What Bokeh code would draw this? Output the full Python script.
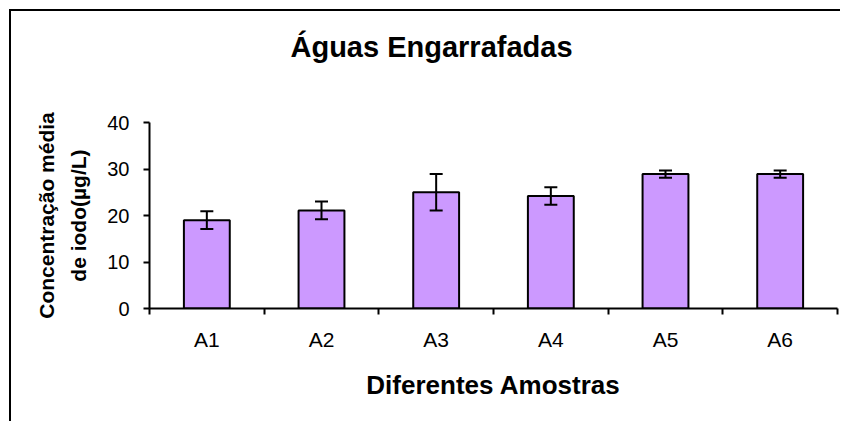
from bokeh.plotting import figure
from bokeh.models import ColumnDataSource, FixedTicker, Whisker, TeeHead, Range1d, Title
from bokeh.embed import file_html
from bokeh.resources import INLINE

categories = ["A1", "A2", "A3", "A4", "A5", "A6"]
means = [19.0, 21.1, 25.0, 24.2, 28.9, 28.9]
errors = [1.9, 1.9, 3.9, 1.9, 0.8, 0.8]
y_ticks = [0, 10, 20, 30, 40]

xs = [i + 0.5 for i in range(len(categories))]
src = ColumnDataSource(dict(
    x=xs, top=means,
    upper=[m + e for m, e in zip(means, errors)],
    lower=[m - e for m, e in zip(means, errors)],
))

FONT = "Liberation Sans"

p = figure(width=831, height=412, output_backend="svg", toolbar_location=None,
           x_range=Range1d(0, len(categories)), y_range=Range1d(0, 40),
           min_border_left=138, min_border_right=5, min_border_top=111,
           min_border_bottom=115)
p.styles = {"margin-left": "9px", "margin-top": "9px",
            "border-left": "2px solid black", "border-top": "2px solid black"}
p.outline_line_color = None
p.grid.visible = False
p.background_fill_color = "white"
p.border_fill_color = "white"

p.vbar(x="x", top="top", width=0.4, source=src, fill_color="#CC99FF",
       line_color="black", line_width=2)
w = Whisker(base="x", upper="upper", lower="lower", source=src,
            line_color="black", line_width=2, level="overlay",
            upper_head=TeeHead(size=13, line_color="black", line_width=2),
            lower_head=TeeHead(size=13, line_color="black", line_width=2))
p.add_layout(w)

# spacer between plot area and title
p.add_layout(Title(text=" ", text_font_size="1px", standoff=57), "above")

# title
p.title.text = "Águas Engarrafadas"
p.title.text_font = FONT
p.title.text_font_size = "29px"
p.title.text_font_style = "bold"
p.title.text_color = "black"
p.title.align = "left"
p.title.offset = 141
p.title.standoff = 0

# x axis
xa = p.xaxis[0]
xa.ticker = FixedTicker(ticks=xs, minor_ticks=list(range(len(categories) + 1)))
xa.major_label_overrides = {x: c for x, c in zip(xs, categories)}
xa.major_tick_out = 0
xa.major_tick_in = 0
xa.minor_tick_out = 6
xa.minor_tick_in = 0
xa.minor_tick_line_color = "black"
xa.minor_tick_line_width = 2
xa.axis_line_color = "black"
xa.axis_line_width = 2
xa.major_label_text_font = FONT
xa.major_label_text_font_size = "21px"
xa.major_label_text_color = "black"
xa.major_label_standoff = 13
xa.axis_label = "Diferentes Amostras"
xa.axis_label_text_font = FONT
xa.axis_label_text_font_size = "26px"
xa.axis_label_text_font_style = "bold"
xa.axis_label_text_color = "black"
xa.axis_label_standoff = 16

# y axis
ya = p.yaxis[0]
ya.ticker = FixedTicker(ticks=y_ticks)
ya.major_tick_out = 6
ya.major_tick_in = 0
ya.major_tick_line_width = 2
ya.minor_tick_line_color = None
ya.axis_line_width = 2
ya.axis_line_color = "black"
ya.major_label_text_font = FONT
ya.major_label_text_font_size = "20px"
ya.major_label_text_color = "black"
ya.major_label_standoff = 14
ya.axis_label = "Concentração média\nde iodo(µg/L)"
ya.axis_label_text_font = FONT
ya.axis_label_text_font_size = "21px"
ya.axis_label_text_font_style = "bold"
ya.axis_label_text_color = "black"
ya.axis_label_text_line_height = 1.4
ya.axis_label_standoff = 14

open("out.html", "w").write(file_html(p, INLINE))
